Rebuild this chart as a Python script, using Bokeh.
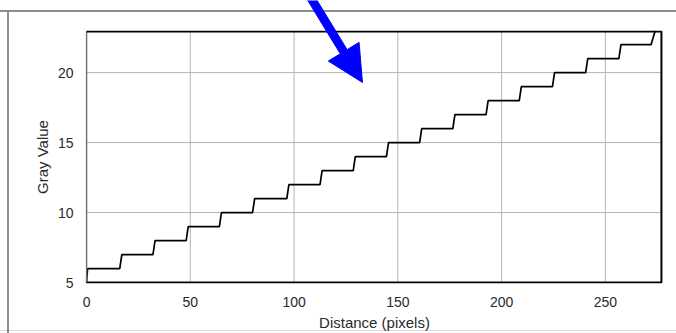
import math
from bokeh.plotting import figure
from bokeh.layouts import column
from bokeh.models import Range1d, FixedTicker
from bokeh.embed import file_html
from bokeh.resources import INLINE

# Profile data (distance in pixels, gray value)
distance = [0, 0.5, 16, 17, 32, 33, 48, 49, 64, 65, 80, 81, 96.5, 97.5,
            112.5, 113.5, 128.5, 129.5, 144.5, 145.5, 160.5, 161.5, 176.5, 177.5,
            192.5, 193.5, 208.5, 209.5, 224.5, 225.5, 240.5, 241.5, 256.5, 257.5,
            272, 274]
gray_value = [5, 6, 6, 7, 7, 8, 8, 9, 9, 10, 10, 11, 11, 12,
              12, 13, 13, 14, 14, 15, 15, 16, 16, 17,
              17, 18, 18, 19, 19, 20, 20, 21, 21, 22,
              22, 23]

x_ticks = [0, 50, 100, 150, 200, 250]
y_ticks = [5, 10, 15, 20]

# plot-area extent (data units)
area_x = (0, 277)
area_y = (5, 22.94)

# Arrow annotation: tail and tip in data units of the main plot
arrow_tail = (107.4, 25.46)
arrow_tip = (132.95, 19.37)

W, H = 676, 333
BL, BR, BT, BB = 85, 13, 30, 45
X0, X1 = -0.5, 278
Y0, Y1 = 4.93, 23.01

p = figure(width=W, height=H, output_backend="svg", toolbar_location=None,
           x_range=Range1d(X0, X1), y_range=Range1d(Y0, Y1),
           min_border_left=BL, min_border_right=BR, min_border_top=BT,
           min_border_bottom=BB)
p.styles = {
    "background-color": "white",
    "background-image": ("linear-gradient(#8c8c8c,#8c8c8c), "
                         "linear-gradient(#8c8c8c,#8c8c8c), "
                         "linear-gradient(#dcdcdc,#dcdcdc)"),
    "background-size": "100% 2px, 2px 100%, 100% 1px",
    "background-position": "0px 10px, 7px 10px, 0px 330px",
    "background-repeat": "no-repeat",
}

# grid (limited to the plot area)
p.xgrid.visible = False
p.ygrid.visible = False
p.segment(x0=x_ticks, y0=[area_y[0]] * len(x_ticks), x1=x_ticks,
          y1=[area_y[1]] * len(x_ticks), line_color="#b4b4b4", line_width=1)
p.segment(x0=[area_x[0]] * len(y_ticks), y0=y_ticks, x1=[area_x[1]] * len(y_ticks),
          y1=y_ticks, line_color="#b4b4b4", line_width=1)

# profile
p.line(distance, gray_value, line_color="black", line_width=1.7)

# plot-area border
p.line([area_x[0], area_x[0]], [area_y[0], area_y[1]], line_color="#707070", line_width=1.5)
p.line([area_x[0], area_x[1], area_x[1], area_x[0]],
       [area_y[1], area_y[1], area_y[0], area_y[0]], line_color="black", line_width=2)

p.outline_line_color = None
p.background_fill_color = None
p.border_fill_color = None

p.xaxis.ticker = FixedTicker(ticks=x_ticks)
p.yaxis.ticker = FixedTicker(ticks=y_ticks)

for ax in (p.xaxis, p.yaxis):
    ax.axis_line_color = None
    ax.major_tick_line_color = None
    ax.minor_tick_line_color = None
    ax.major_label_text_font = "Liberation Sans"
    ax.major_label_text_font_size = "14px"
    ax.major_label_text_color = "#2a2a2a"
    ax.axis_label_text_font = "Liberation Sans"
    ax.axis_label_text_font_size = "15px"
    ax.axis_label_text_font_style = "normal"
    ax.axis_label_text_color = "#2a2a2a"

p.xaxis.axis_label = "Distance (pixels)"
p.yaxis.axis_label = "Gray Value"
p.xaxis.major_label_standoff = 7
p.yaxis.major_label_standoff = 6
p.xaxis.axis_label_standoff = 4
p.yaxis.axis_label_standoff = 4

# ---- overlay layer for the arrow (it extends above the plot frame) ----
fw = W - BL - BR
fh = H - BT - BB
kx = fw / (X1 - X0)
ky = fh / (Y1 - Y0)
def to_px(pt):
    return (BL + (pt[0] - X0) * kx, BT + fh - (pt[1] - Y0) * ky)
tx, ty = to_px(arrow_tail)
hx, hy = to_px(arrow_tip)
L = math.hypot(hx - tx, hy - ty)
ux, uy = (hx - tx) / L, (hy - ty) / L
nx, ny = -uy, ux
head_len, head_half, shaft_half = 36, 18, 4
bx, by = hx - ux * head_len, hy - uy * head_len
pts_px = [
    (tx + nx * shaft_half, ty + ny * shaft_half),
    (bx + nx * shaft_half, by + ny * shaft_half),
    (bx + nx * head_half, by + ny * head_half),
    (hx, hy),
    (bx - nx * head_half, by - ny * head_half),
    (bx - nx * shaft_half, by - ny * shaft_half),
    (tx - nx * shaft_half, ty - ny * shaft_half),
]

ov = figure(width=W, height=H, output_backend="svg", toolbar_location=None,
            x_range=Range1d(BL, W - BR), y_range=Range1d(H, 0),
            x_axis_type=None, y_axis_type=None,
            min_border_left=BL, min_border_right=BR, min_border_top=0,
            min_border_bottom=0)
ov.grid.visible = False
ov.outline_line_color = None
ov.background_fill_color = None
ov.border_fill_color = None
ov.patch([q[0] for q in pts_px], [q[1] for q in pts_px],
         fill_color="#0000ff", line_color="#0000ff", line_width=1)
ov.styles = {"position": "absolute", "top": "0px", "left": "0px",
             "width": f"{W}px", "height": f"{H}px",
             "pointer-events": "none"}

layout = column(p, ov)
open("out.html", "w").write(file_html(layout, INLINE))
